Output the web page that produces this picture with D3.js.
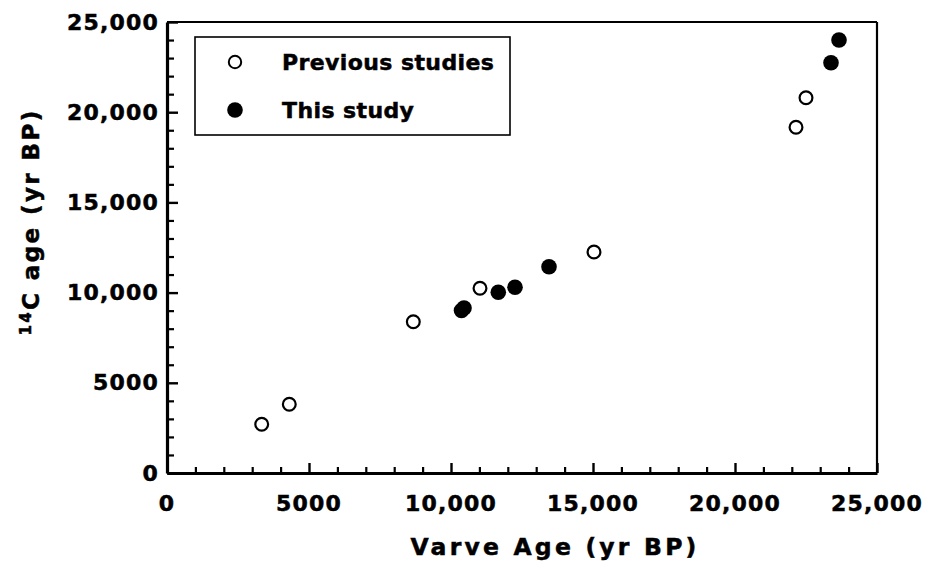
<!DOCTYPE html>
<html>
<head>
<meta charset="utf-8">
<script src="https://cdn.jsdelivr.net/npm/d3@7"></script>
<style>
  html, body { margin: 0; padding: 0; background: #fff; }
  svg { display: block; font-family: "DejaVu Sans", "Liberation Sans", Arial, sans-serif; font-weight: bold; }
  svg text { stroke: #000; stroke-width: 0.5px; }
</style>
</head>
<body>
<svg id="chart" width="926" height="569"></svg>
<script>
// ---- data (varve age vs 14C age, yr BP) ----
const previousVarve = [3335, 4306, 8673, 11021, 15035, 22148, 22500];
const previousC14   = [2700, 3808, 8387, 10238, 12251, 19163, 20804];
const thisVarve = [10370, 10458, 11665, 12254, 13451, 23380, 23662];
const thisC14   = [9008, 9146, 10017, 10294, 11436, 22744, 24002];

const majorTicks = [0, 5000, 10000, 15000, 20000, 25000];
const minorTicks = d3.range(1000, 25000, 1000).filter(v => v % 5000 !== 0);
const legendLabels = ["Previous studies", "This study"];
const xTitle = "Varve Age (yr BP)";
const yTitleSup = "14";
const yTitleMain = "C age (yr BP)";

// ---- layout ----
const mLeft = 167, mRight = 877, mTop = 22, mBottom = 473;
const FONT = "DejaVu Sans, Liberation Sans, Arial, sans-serif";
const svg = d3.select("#chart");

const x = d3.scaleLinear().domain([0, 25000]).range([mLeft, mRight]);
const y = d3.scaleLinear().domain([0, 25000]).range([mBottom, mTop]);
const fmt = d => d >= 10000 ? d3.format(",")(d) : String(d);

// frame top/right
svg.append("line").attr("x1", mLeft).attr("x2", mRight).attr("y1", mTop).attr("y2", mTop)
  .attr("stroke", "#000").attr("stroke-width", 2.2);
svg.append("line").attr("x1", mRight).attr("x2", mRight).attr("y1", mTop).attr("y2", mBottom)
  .attr("stroke", "#000").attr("stroke-width", 2.2);

// minor ticks
svg.append("g").attr("transform", `translate(0,${mBottom})`)
  .call(d3.axisBottom(x).tickValues(minorTicks).tickSize(-6).tickFormat(""))
  .call(g => g.select(".domain").remove())
  .call(g => g.selectAll("line").attr("stroke-width", 2.2));
svg.append("g").attr("transform", `translate(${mLeft},0)`)
  .call(d3.axisLeft(y).tickValues(minorTicks).tickSize(-7).tickFormat(""))
  .call(g => g.select(".domain").remove())
  .call(g => g.selectAll("line").attr("stroke-width", 2.2));

// major axes
const xAxis = svg.append("g").attr("transform", `translate(0,${mBottom})`)
  .call(d3.axisBottom(x).tickValues(majorTicks).tickSize(-10).tickSizeOuter(0).tickPadding(22).tickFormat(fmt));
const yAxis = svg.append("g").attr("transform", `translate(${mLeft},0)`)
  .call(d3.axisLeft(y).tickValues(majorTicks).tickSize(-11).tickSizeOuter(0).tickPadding(8).tickFormat(fmt));

[xAxis, yAxis].forEach(g => {
  g.select(".domain").attr("stroke-width", 3.2);
  g.selectAll(".tick line").attr("stroke-width", 2.4);
  g.selectAll("text").attr("font-size", 22).attr("font-weight", "bold")
    .attr("font-family", FONT)
    .attr("letter-spacing", 1.2).attr("fill", "#000");
});
xAxis.selectAll("text").attr("dx", -0.5);

// points
const prevData = previousVarve.map((v, i) => ({ x: v, y: previousC14[i] }));
const thisData = thisVarve.map((v, i) => ({ x: v, y: thisC14[i] }));

svg.append("g").selectAll("circle").data(thisData).join("circle")
  .attr("cx", d => x(d.x)).attr("cy", d => y(d.y)).attr("r", 7.8).attr("fill", "#000");
svg.append("g").selectAll("circle").data(prevData).join("circle")
  .attr("cx", d => x(d.x)).attr("cy", d => y(d.y)).attr("r", 6.4)
  .attr("fill", "#fff").attr("stroke", "#000").attr("stroke-width", 2.2);

// legend
const lg = svg.append("g");
lg.append("rect").attr("x", 195).attr("y", 37).attr("width", 315).attr("height", 98)
  .attr("fill", "#fff").attr("stroke", "#000").attr("stroke-width", 1.6);
const legendRows = [62, 110];
lg.append("circle").attr("cx", 235).attr("cy", legendRows[0]).attr("r", 6.2)
  .attr("fill", "#fff").attr("stroke", "#000").attr("stroke-width", 2);
lg.append("circle").attr("cx", 235).attr("cy", legendRows[1]).attr("r", 7.8).attr("fill", "#000");
legendLabels.forEach((t, i) => {
  lg.append("text").attr("x", 282).attr("y", legendRows[i] + 8.2)
    .attr("font-size", 22).attr("letter-spacing", 0.4).text(t);
});

// axis titles
svg.append("text").attr("x", 555).attr("y", 555).attr("text-anchor", "middle")
  .attr("font-size", 23.5).attr("letter-spacing", 3.2).text(xTitle);

const yt = svg.append("text").attr("transform", "translate(39,222) rotate(-90)")
  .attr("text-anchor", "middle").attr("font-size", 23).attr("letter-spacing", 2.4);
yt.append("tspan").attr("font-size", 15).attr("dy", -8).text(yTitleSup);
yt.append("tspan").attr("dy", 8).text(yTitleMain);
</script>
</body>
</html>
